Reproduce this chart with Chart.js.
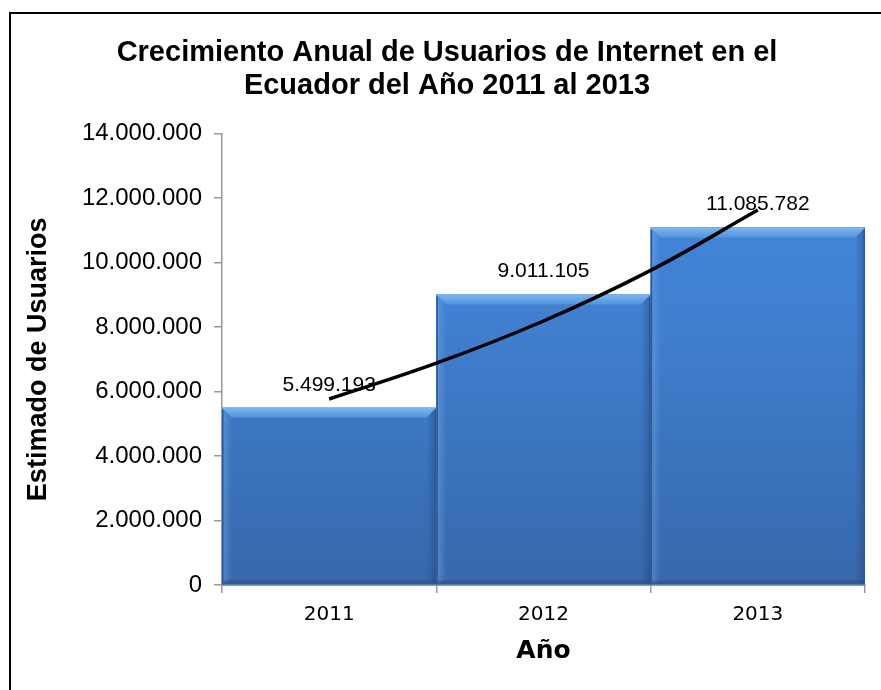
<!DOCTYPE html>
<html>
<head>
<meta charset="utf-8">
<script src="https://cdn.jsdelivr.net/npm/chart.js@4.4.0/dist/chart.umd.min.js"></script>
<style>
  html, body { margin: 0; padding: 0; background: #fff; }
  #wrap { width: 881px; height: 690px; }
</style>
</head>
<body>
<div id="wrap"><canvas id="myChart"></canvas></div>
<script>
// datos
const years = ['2011', '2012', '2013']
const users = [5499193, 9011105, 11085782]
// linea de tendencia (exponencial)
const trendX = [0, 0.5, 1, 1.5, 2]
const trendY = [5770000, 6880000, 8190000, 9760000, 11630000]
const yMin = 0
const yMax = 14000000
const yStep = 2000000

const fmt = v => String(Math.round(v)).replace(/\B(?=(\d{3})+(?!\d))/g, '.')

const ctx = document.querySelector('#myChart').getContext('2d')

function barFill(context) {
    const area = context.chart.chartArea
    if (!area) return '#3f7fcf'
    const g = context.chart.ctx.createLinearGradient(0, area.top, 0, area.bottom)
    g.addColorStop(0, '#4389db')
    g.addColorStop(0.4, '#4080d0')
    g.addColorStop(1, '#3768ab')
    return g
}

// marco del grafico + fondo blanco
const framePlugin = {
    id: 'frame',
    beforeDraw: (chart) => {
        const c = chart.ctx
        c.save()
        c.fillStyle = '#fff'
        c.fillRect(0, 0, chart.width, chart.height)
        c.strokeStyle = '#000'
        c.lineWidth = 2
        c.beginPath()
        c.moveTo(10, chart.height)
        c.lineTo(10, 13)
        c.lineTo(chart.width, 13)
        c.stroke()
        c.restore()
    }
}

// bisel de las barras + etiquetas de valores (antes de la linea de tendencia)
const bevelPlugin = {
    id: 'bevel',
    afterDatasetDraw: (chart, args) => {
        if (args.index !== 0) return
        const c = chart.ctx
        const b = 10
        c.save()
        args.meta.data.forEach((bar, i) => {
            const l = bar.x - bar.width / 2
            const r = bar.x + bar.width / 2
            const t = bar.y
            const bo = bar.base
            // cara superior
            let g = c.createLinearGradient(0, t, 0, t + b)
            g.addColorStop(0, '#7fb6ef')
            g.addColorStop(1, '#4f92df')
            c.fillStyle = g
            c.beginPath()
            c.moveTo(l, t); c.lineTo(r, t); c.lineTo(r - b, t + b); c.lineTo(l + b, t + b); c.closePath()
            c.fill()
            // lado izquierdo
            g = c.createLinearGradient(l, 0, l + b, 0)
            g.addColorStop(0, 'rgba(120,170,230,0.5)')
            g.addColorStop(1, 'rgba(120,170,230,0.0)')
            c.fillStyle = g
            c.beginPath()
            c.moveTo(l, t); c.lineTo(l + b, t + b); c.lineTo(l + b, bo - 4); c.lineTo(l, bo); c.closePath()
            c.fill()
            // lado derecho
            g = c.createLinearGradient(r - b, 0, r, 0)
            g.addColorStop(0, 'rgba(30,60,110,0.0)')
            g.addColorStop(1, 'rgba(30,60,110,0.4)')
            c.fillStyle = g
            c.beginPath()
            c.moveTo(r, t); c.lineTo(r - b, t + b); c.lineTo(r - b, bo - 4); c.lineTo(r, bo); c.closePath()
            c.fill()
            // base
            c.fillStyle = 'rgba(30,60,110,0.3)'
            c.fillRect(l, bo - 4, bar.width, 4)
            // borde lateral
            c.strokeStyle = '#2d5890'
            c.lineWidth = 1.5
            c.beginPath()
            c.moveTo(l + 0.75, t + 2); c.lineTo(l + 0.75, bo)
            c.moveTo(r - 0.75, t + 2); c.lineTo(r - 0.75, bo)
            c.stroke()
            // etiqueta
            c.fillStyle = '#000'
            c.font = '21px "Liberation Sans", Arial, sans-serif'
            c.textAlign = 'center'
            c.textBaseline = 'middle'
            c.fillText(fmt(users[i]), bar.x, t - 23)
        })
        c.restore()
    }
}

const data = {
    labels: years,
    datasets: [{
        type: 'bar',
        data: users,
        backgroundColor: barFill,
        borderWidth: 0,
        barPercentage: 1,
        categoryPercentage: 1,
        grouped: false,
        order: 2,
    }, {
        type: 'line',
        data: trendX.map((x, i) => ({ x: x, y: trendY[i] })),
        xAxisID: 'xTrend',
        borderColor: '#000',
        borderWidth: 3.5,
        pointRadius: 0,
        tension: 0.4,
        fill: false,
        order: 1,
    }]
}

const config = {
    type: 'bar',
    data: data,
    plugins: [framePlugin, bevelPlugin],
    options: {
        responsive: false,
        animation: false,
        layout: { padding: { left: 29, top: 12, right: 16, bottom: 0 } },
        plugins: {
            legend: { display: false },
            tooltip: { enabled: false },
            title: {
                display: true,
                text: ['Crecimiento Anual de Usuarios de Internet en el', 'Ecuador del Año 2011 al 2013'],
                color: '#000',
                font: { family: '"Liberation Sans", Arial, sans-serif', size: 29, weight: 'bold', lineHeight: 1.15 },
                padding: { top: 24, bottom: 31 },
            },
        },
        scales: {
            x: {
                type: 'category',
                offset: true,
                afterFit: (scale) => { scale.height = 105 },
                grid: { display: true, drawOnChartArea: false, offset: true, tickLength: 8, color: '#9a9a9a', lineWidth: 1.5 },
                border: { color: '#9a9a9a', width: 2 },
                ticks: { color: '#000', padding: 10, font: { family: '"DejaVu Sans", sans-serif', size: 20 } },
                title: {
                    display: true,
                    text: 'Año',
                    color: '#000',
                    font: { family: '"DejaVu Sans", sans-serif', size: 25, weight: 'bold', lineHeight: 1.2 },
                    padding: { top: 4, bottom: 24 },
                },
            },
            xTrend: {
                type: 'linear',
                display: false,
                offset: false,
                min: -0.5,
                max: 2.5,
            },
            y: {
                min: yMin,
                max: yMax,
                afterFit: (scale) => { scale.width = 193 },
                afterBuildTicks: (scale) => {
                    const t = []
                    for (let v = yMin; v <= yMax; v += yStep) t.push({ value: v })
                    scale.ticks = t
                },
                grid: { display: true, drawOnChartArea: false, tickLength: 8, color: '#9a9a9a', lineWidth: 1.5 },
                border: { color: '#9a9a9a', width: 1.5 },
                ticks: {
                    color: '#000',
                    padding: 12,
                    font: { family: '"Liberation Sans", Arial, sans-serif', size: 24 },
                    callback: (value) => fmt(value),
                },
                title: {
                    display: true,
                    text: 'Estimado de Usuarios',
                    color: '#000',
                    font: { family: '"Liberation Sans", Arial, sans-serif', size: 27, weight: 'bold', lineHeight: 1.2 },
                    padding: { top: -7, bottom: 0 },
                },
            },
        },
    },
}

const canvas = document.querySelector('#myChart')
canvas.width = 881
canvas.height = 690
const myChart = new Chart(ctx, config)
</script>
</body>
</html>
